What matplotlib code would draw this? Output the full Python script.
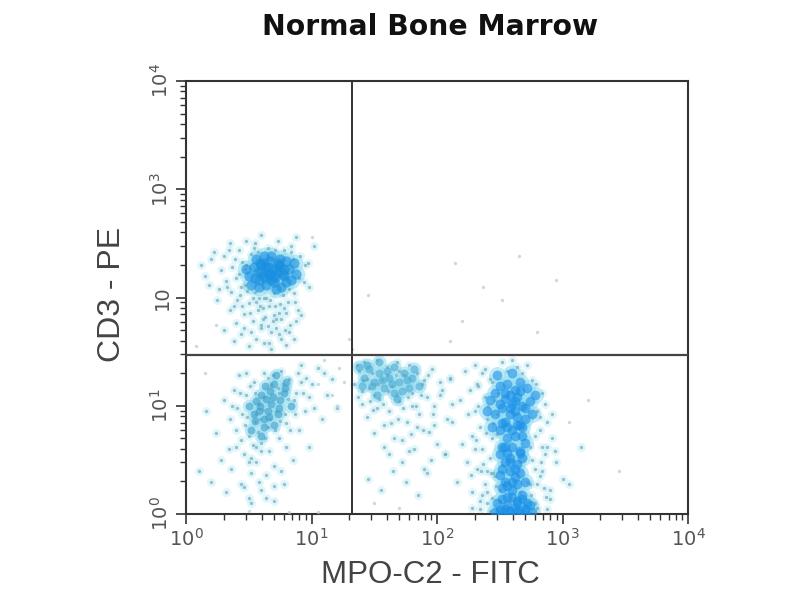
import matplotlib
matplotlib.use("Agg")
import numpy as np
import matplotlib.pyplot as plt

# all values are log10 of the channel value
# T cell cluster, upper left
t_x = [.12,.18,.22,.25,.28,.30,.33,.35,.37,.38,
       .40,.42,.43,.45,.46,.47,.48,.50,.52,.53,
       .55,.55,.57,.58,.60,.60,.62,.63,.65,.66,
       .68,.70,.72,.73,.75,.76,.78,.80,.82,.83,
       .85,.87,.88,.90,.92,.95,.98,1.02,.30,.38,
       .44,.50,.56,.62,.68,.74,.80,.86,.42,.48,
       .54,.60,.66,.72,.78,.84,.36,.46,.58,.70,
       .15,.20,.26,.32,.34,.39,.41,.44,.47,.49,
       .51,.53,.57,.59,.61,.64,.67,.69,.71,.74,
       .77,.79,.81,.84,.86,.89,.91,.94,.97,.35,
       .40,.45,.52,.56,.61,.65,.71,.76,.82,.88]
t_y = [2.30,2.12,2.42,1.98,2.25,2.38,2.10,2.50,2.28,1.92,
       2.18,2.44,2.02,2.33,1.85,2.12,2.52,1.95,2.40,1.78,
       2.05,2.50,1.88,2.35,1.72,2.58,2.00,1.82,2.46,1.92,
       1.68,2.04,1.80,2.52,1.94,1.62,2.44,1.86,2.08,1.75,
       2.36,1.96,2.56,2.18,1.84,2.30,2.10,2.48,1.70,1.60,
       1.66,1.55,1.62,1.58,1.52,1.66,1.56,1.62,2.22,2.30,
       2.46,1.75,1.58,1.72,1.90,2.48,2.05,1.72,2.00,1.84,
       2.20,2.36,2.08,2.15,2.44,2.36,1.98,2.10,2.26,2.06,
       1.86,2.00,2.42,1.92,1.80,2.00,1.98,1.78,2.44,1.86,
       2.02,1.70,1.96,2.42,2.04,1.88,2.38,2.14,2.32,1.88,
       1.76,1.92,1.68,1.96,1.90,1.74,1.92,1.80,1.68,1.78]
t_core_x = [.50,.54,.58,.62,.66,.70,.74,.78,.82,.52,.56,.60,.64,.68,.72,.76,.80,.84,
            .55,.60,.65,.70,.75,.80,.58,.63,.68,.73,.78,.62,.67,.72,.48,.86,.88,
            .57,.61,.65,.69,.73,.77,.59,.63,.67,.71,.75]
t_core_y = [2.20,2.28,2.16,2.32,2.22,2.14,2.30,2.20,2.26,2.12,2.36,2.24,2.12,2.38,2.26,2.10,2.34,2.16,
            2.18,2.30,2.28,2.20,2.36,2.14,2.10,2.18,2.16,2.32,2.26,2.38,2.34,2.08,2.26,2.32,2.22,
            2.24,2.20,2.24,2.26,2.24,2.22,2.32,2.28,2.20,2.18,2.28]

# lower left cluster
ll_x = [.10,.16,.20,.24,.28,.30,.32,.35,.36,.38,
        .40,.42,.44,.45,.46,.48,.50,.50,.52,.54,
        .55,.56,.58,.60,.60,.62,.64,.65,.66,.68,
        .70,.70,.72,.74,.76,.78,.80,.82,.85,.88,
        .90,.92,.95,.98,1.00,1.05,1.08,1.12,1.16,1.20,
        .34,.40,.46,.52,.58,.64,.70,.76,.44,.50,
        .56,.62,.68,.74,.80,.86,.92,.98,.48,.60,
        .37,.41,.43,.47,.49,.51,.53,.55,.57,.59,
        .61,.63,.65,.67,.69,.71,.73,.75,.77,.79,
        .81,.83,.87,.89,.93,.96,1.02,1.10,.52,.56]
ll_y = [.40,.95,.30,.75,.50,1.05,.20,.88,.42,1.15,
        .62,1.28,.28,.92,.55,1.10,.15,.72,.38,1.22,
        .85,.48,1.02,.22,.66,1.30,.36,.80,.58,1.18,
        .12,.44,.95,.70,1.32,.28,.62,1.25,.50,1.12,
        .78,1.38,.95,.62,1.20,1.35,.88,1.10,1.25,.98,
        .60,.78,.25,.10,.30,.15,.26,.40,.68,.48,
        .92,1.08,1.20,1.12,.84,1.05,1.22,1.08,1.30,.58,
        1.00,.98,1.12,.82,.90,1.18,.64,1.12,.76,.88,
        .96,.70,1.26,.88,1.28,.78,1.16,.86,1.20,.92,
        1.06,.78,.92,1.30,1.12,1.26,.98,1.30,.52,.62]
ll_core_x = [.50,.55,.60,.65,.70,.75,.80,.52,.58,.63,.68,.73,.78,.56,.62,.67,.72,.66,.84,.60,
             .54,.59,.64,.69,.74,.79,.62,.70]
ll_core_y = [1.00,.86,1.10,.95,.82,1.05,1.22,.78,.95,1.18,1.02,.92,1.12,1.04,.80,1.14,1.28,.90,1.00,.72,
             .92,1.00,1.06,1.08,.98,1.16,.88,1.20]

# middle cluster, around the gate
mid_x = [1.34,1.38,1.40,1.42,1.44,1.46,1.48,1.50,1.52,1.54,
         1.56,1.58,1.60,1.62,1.64,1.66,1.68,1.70,1.72,1.74,
         1.76,1.78,1.80,1.82,1.84,1.86,1.88,1.90,1.92,1.94,
         1.96,1.98,2.00,2.04,2.08,2.12,1.45,1.55,1.65,1.75,
         1.85,1.95,1.50,1.60,1.70,1.80,1.90,1.40,1.52,1.68,
         1.36,1.44,1.62,1.72,1.84,1.58,1.78,1.98,2.06,1.92,
         1.37,1.41,1.47,1.49,1.53,1.57,1.61,1.63,1.67,1.69,
         1.73,1.77,1.79,1.83,1.87,1.89,1.93,1.97,2.02,2.10]
mid_y = [1.20,1.32,1.02,1.40,.90,1.16,1.30,.75,1.42,1.06,
         1.24,.62,1.36,.95,1.18,.70,1.40,1.04,.48,1.28,
         .85,1.38,1.12,.60,1.30,.92,1.20,.42,1.08,.76,
         1.34,1.00,.65,1.15,.88,1.02,.32,.22,.40,.30,
         .18,.50,1.10,1.28,1.32,1.00,1.24,1.14,.98,1.10,
         1.38,1.25,.55,.68,.80,.82,.58,.82,.55,.38,
         1.08,1.24,1.04,.96,1.20,1.02,1.14,.84,1.28,.88,
         .98,1.08,.74,1.00,1.10,.78,1.28,.92,1.22,1.26]
mid_core_x = [1.42,1.46,1.50,1.54,1.58,1.62,1.66,1.70,1.74,1.78,1.44,1.52,1.60,1.68,1.76,1.48,1.56,1.64,1.72,1.80,
              1.38,1.40,1.54,1.66,1.82,1.86]
mid_core_y = [1.26,1.34,1.22,1.30,1.16,1.26,1.12,1.22,1.30,1.16,1.38,1.10,1.32,1.06,1.24,1.18,1.24,1.20,1.14,1.26,
              1.36,1.18,1.40,1.36,1.34,1.18]

# right hand column (myeloid cells)
r_x = [2.02,2.06,2.10,2.12,2.16,2.18,2.20,2.22,2.24,2.25,
       2.26,2.28,2.28,2.30,2.30,2.32,2.32,2.34,2.34,2.36,
       2.36,2.38,2.38,2.40,2.40,2.42,2.42,2.44,2.44,2.46,
       2.46,2.48,2.48,2.50,2.50,2.52,2.52,2.54,2.54,2.56,
       2.58,2.60,2.62,2.64,2.66,2.68,2.70,2.72,2.74,2.76,
       2.78,2.80,2.82,2.84,2.86,2.88,2.90,2.92,2.95,3.00,
       2.30,2.35,2.40,2.45,2.50,2.70,2.75,2.80,2.85,2.78,
       2.84,2.72,2.66,2.34,2.28,2.42,2.88,2.82,3.05,3.15,
       2.27,2.31,2.33,2.37,2.39,2.41,2.43,2.45,2.47,2.49,
       2.76,2.78,2.80,2.82,2.84,2.86,2.88,2.90,2.92,2.94,
       2.33,2.38,2.44,2.48,2.36,2.40,2.74,2.79,2.83,2.87]
r_y = [1.10,.55,1.25,.85,.30,1.05,.65,1.32,.48,.92,
       1.15,.20,.72,1.38,.95,.42,1.20,.05,.80,1.30,
       .60,1.08,.28,.88,.10,1.25,.52,.70,.15,1.05,
       .35,.92,.05,.62,.22,1.40,.45,.02,.30,1.32,
       .12,1.42,.06,1.36,.20,1.30,.08,1.38,.28,1.24,
       .10,.95,.35,1.12,.55,.85,.22,.70,.48,.32,
       .60,.40,.20,.38,.12,.08,.18,.06,.24,.42,
       .62,.30,.48,.12,.06,.03,.05,.78,.28,.62,
       .36,.68,1.00,.46,.75,1.00,.38,.84,.26,1.12,
       .50,.72,.28,.90,.40,1.02,.62,.14,.92,.58,
       1.18,1.34,1.22,.74,.18,.40,.62,1.20,.48,.16]
r_core_x = [2.42,2.46,2.50,2.54,2.58,2.62,2.66,2.70,2.74,2.44,2.48,2.52,2.56,2.60,2.64,2.68,2.72,
            2.50,2.54,2.58,2.62,2.66,2.56,2.60,2.64,2.68,2.52,
            2.50,2.54,2.58,2.62,2.66,2.70,2.52,2.56,2.60,2.64,2.68,
            2.50,2.54,2.58,2.62,2.66,2.70,2.52,2.56,2.60,2.64,2.68,
            2.48,2.52,2.56,2.60,2.64,2.68,2.72,2.50,2.54,2.58,2.62,2.66,2.70,2.74,
            2.46,2.52,2.58,2.64,2.70,2.76,
            2.46,2.50,2.54,2.58,2.62,2.66,2.70,2.76,2.78,2.40,
            2.52,2.56,2.60,2.64,2.68,2.54,2.58,2.62,2.66,2.56,2.60,2.64]
r_core_y = [1.05,.92,1.18,.85,1.10,.95,1.22,.88,1.04,.80,1.28,.98,1.20,1.30,1.08,1.00,1.16,
            .78,1.06,.92,1.15,.82,.70,1.02,.90,.72,.62,
            .55,.62,.48,.72,.58,.66,.42,.56,.62,.46,.52,
            .36,.30,.40,.34,.38,.30,.24,.26,.22,.28,.18,
            .10,.14,.08,.16,.10,.14,.10,.04,.05,.03,.06,.04,.05,.08,
            .02,.02,.02,.02,.02,.02,
            1.12,1.02,1.12,.98,1.04,1.14,.98,.92,1.10,.95,
            .84,.80,.78,.82,.80,.48,.52,.42,.56,.16,.30,.12]

# the few events scattered over the rest of the plot
sparse_x = [1.00,1.45,2.14,2.37,2.52,2.65,2.95,2.80,1.30,1.22,1.10,1.16,1.26,1.32,1.05,1.20,
            .08,.15,.24,.50,.82,1.05,1.50,1.70,3.05,3.20,3.45,2.20,2.10]
sparse_y = [2.56,2.02,2.32,2.10,1.98,2.38,2.16,1.68,1.62,1.35,1.42,1.10,1.22,1.52,1.20,1.00,
            1.55,1.30,1.75,.03,.02,.02,.10,.06,.85,1.05,.40,1.78,1.60]

x_ticks = [0, 1, 2, 3, 4]
y_ticks = [0, 1, 2, 3, 4]
x_labels = ["$\\mathregular{10^0}$", "$\\mathregular{10^1}$", "$\\mathregular{10^2}$",
            "$\\mathregular{10^3}$", "$\\mathregular{10^4}$"]
y_labels = ["$\\mathregular{10^0}$", "$\\mathregular{10^1}$", "10",
            "$\\mathregular{10^3}$", "$\\mathregular{10^4}$"]
gate_x = 1.32
gate_y = 1.47


def draw_cloud(ax, x, y, core_x, core_y, core_color, core_size):
    """Speckle with a pale halo, then the dense part on top"""
    px, py = 10.0 ** np.array(x), 10.0 ** np.array(y)
    cx, cy = 10.0 ** np.array(core_x), 10.0 ** np.array(core_y)
    ax.scatter(px, py, s=42, color="#c4f0f8", alpha=0.5, linewidths=0, zorder=2)
    ax.scatter(cx, cy, s=core_size * 3, color="#8fdcf2", alpha=0.55, linewidths=0, zorder=2)
    ax.scatter(px, py, s=6, color="#7ba8b6", alpha=0.7, linewidths=0, zorder=3)
    ax.scatter(cx, cy, s=core_size, color=core_color, alpha=0.6, linewidths=0, zorder=3)


fig = plt.figure(figsize=(8, 6), dpi=100)
ax = fig.add_axes([186 / 800, 1 - 514 / 600, 502 / 800, 433 / 600])
ax.set_xscale("log")
ax.set_yscale("log")
ax.set_xlim(1, 1e4)
ax.set_ylim(1, 1e4)

draw_cloud(ax, t_x, t_y, t_core_x, t_core_y, "#1a8fe0", 55)
draw_cloud(ax, ll_x, ll_y, ll_core_x, ll_core_y, "#3c9cc8", 32)
draw_cloud(ax, mid_x, mid_y, mid_core_x, mid_core_y, "#4aa8d0", 34)
draw_cloud(ax, r_x, r_y, r_core_x, r_core_y, "#1a8fe8", 50)
ax.scatter(10.0 ** np.array(sparse_x), 10.0 ** np.array(sparse_y), s=6,
           color="#b4ccd3", alpha=0.7, linewidths=0, zorder=3)

ax.axvline(10 ** gate_x, color="#333333", lw=1.4, zorder=4)
ax.axhline(10 ** gate_y, color="#444444", lw=1.6, zorder=4)

for spine in ax.spines.values():
    spine.set_linewidth(1.5)
    spine.set_color("#333333")

ax.set_xticks([10.0 ** v for v in x_ticks])
ax.set_xticklabels(x_labels, fontsize=14, color="#555555")
ax.set_yticks([10.0 ** v for v in y_ticks])
ax.set_yticklabels(y_labels, fontsize=14, color="#555555", rotation=90, va="center")
ax.tick_params(which="major", length=7, width=1.2, color="#333333", pad=3)
ax.tick_params(which="minor", length=4, width=1, color="#333333")

fig.text(430 / 800, 1 - 27 / 600, "Normal Bone Marrow", fontsize=20.3, fontweight="bold",
         family="DejaVu Sans", color="#111111", ha="center", va="center")
fig.text(430 / 800, 1 - 575 / 600, "MPO-C2 - FITC", fontsize=22.5,
         family="Liberation Sans", color="#444444", ha="center", va="center")
fig.text(112 / 800, 1 - 294 / 600, "CD3 - PE", fontsize=23, rotation=90,
         family="Liberation Sans", color="#444444", ha="center", va="center")

fig.savefig("out.png", dpi=100)
